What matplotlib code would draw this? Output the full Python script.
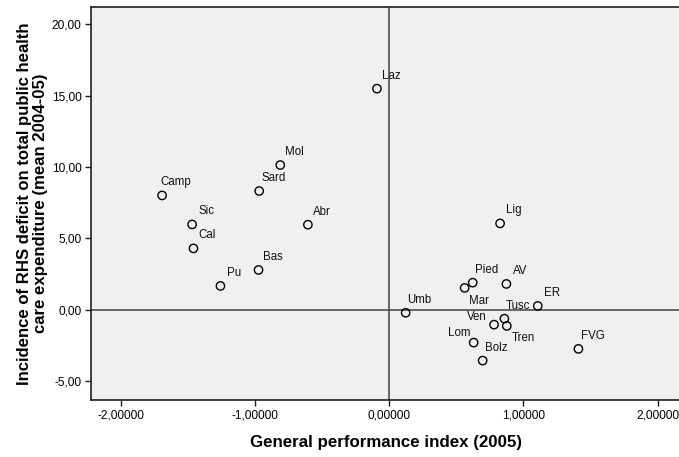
import matplotlib
matplotlib.use("Agg")
import matplotlib.pyplot as plt

regions = ["Laz", "Mol", "Sard", "Camp", "Sic", "Abr", "Cal", "Bas", "Pu", "Umb",
           "Lig", "Pied", "Mar", "AV", "ER", "Tusc", "Ven", "Tren", "Lom", "Bolz", "FVG"]
perf_index = [-0.092, -0.813, -0.970, -1.694, -1.470, -0.607, -1.460, -0.975, -1.259, 0.122,
              0.826, 0.622, 0.562, 0.873, 1.107, 0.858, 0.781, 0.876, 0.629, 0.696, 1.410]
deficit = [15.48, 10.13, 8.31, 8.00, 5.97, 5.95, 4.29, 2.78, 1.66, -0.22,
           6.04, 1.89, 1.52, 1.80, 0.26, -0.63, -1.05, -1.14, -2.31, -3.57, -2.75]

x_ticks = [-2, -1, 0, 1, 2]
x_tick_labels = ["-2,00000", "-1,00000", "0,00000", "1,00000", "2,00000"]
y_ticks = [-5, 0, 5, 10, 15, 20]
y_tick_labels = ["-5,00", "0,00", "5,00", "10,00", "15,00", "20,00"]

# label offsets in pixels (dx right, dy up)
label_offsets = {
    "Mar": (14, -13), "Ven": (-17, 8), "Tren": (17, -12), "Lom": (-14, 10),
}
default_offset = (14, 13)

plt.rcParams['font.family'] = ['Liberation Sans', 'DejaVu Sans']

fig = plt.figure(figsize=(6.79, 4.57), dpi=100)
ax = fig.add_axes([91/679, 57/457, 1 - 91/679 + 0.002, 393/457])
ax.set_facecolor("#F0F0F0")

ax.set_xlim(-2.224, 2.17)
ax.set_ylim(-6.33, 21.2)

ax.axvline(0, color="#404040", lw=1.1, zorder=1)
ax.axhline(0, color="#404040", lw=1.1, zorder=1)

ax.scatter(perf_index, deficit, s=36, facecolors="none", edgecolors="black",
           linewidths=1.0, zorder=3)

px = 0.72
for name, x, y in zip(regions, perf_index, deficit):
    dx, dy = label_offsets.get(name, default_offset)
    ax.annotate(name, (x, y), xytext=(dx * px, dy * px), textcoords="offset points",
                ha="center", va="center", fontsize=8.3, color="#111111", zorder=4)

ax.set_xticks(x_ticks)
ax.set_xticklabels(x_tick_labels, fontsize=8.6)
ax.set_yticks(y_ticks)
ax.set_yticklabels(y_tick_labels, fontsize=8.6)
ax.tick_params(direction="out", length=4.3, width=1, color="#202020", pad=2.5)

for s in ["left", "bottom", "top"]:
    ax.spines[s].set_color("#202020")
    ax.spines[s].set_linewidth(1.2)
ax.spines["right"].set_visible(False)

ax.set_xlabel("General performance index (2005)", fontsize=12.2, fontweight="bold", labelpad=10)
ax.set_ylabel("Incidence of RHS deficit on total public health\ncare expenditure (mean 2004-05)",
              fontsize=12.1, fontweight="bold", labelpad=3, linespacing=1.08)

fig.savefig("out.png", dpi=100)
